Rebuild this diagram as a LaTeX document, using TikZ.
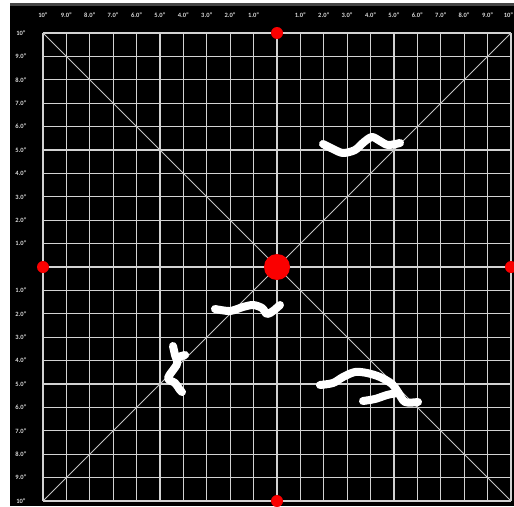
\documentclass[tikz,border=0pt]{standalone}
\usepackage{fontspec}
\setmainfont{Carlito}
\definecolor{GridGray}{RGB}{210,210,210}
\definecolor{DiagGray}{RGB}{195,195,195}
\definecolor{TopBand}{RGB}{70,70,70}
\definecolor{MarkRed}{RGB}{250,0,0}
\definecolor{LabelGray}{RGB}{215,215,215}
\tikzset{
  gridline/.style={draw=GridGray,line width=1.3pt},
  diagline/.style={draw=DiagGray,line width=0.9pt},
  ruler/.style={font=\fontsize{6.5}{7}\selectfont\bfseries,text=LabelGray,inner sep=0pt},
  bigdot/.style={circle,fill=MarkRed,minimum size=26pt,inner sep=0pt},
  edgedot/.style={circle,fill=MarkRed,minimum size=12pt,inner sep=0pt},
  scribble/.style={draw=white,line width=8pt,line cap=round,line join=round}
}

\begin{document}
\begin{tikzpicture}[x=1pt,y=-1pt]
  \useasboundingbox (0,0) rectangle (514,506);
  \clip (0,0) rectangle (514,506);
  \fill[white] (0,0) rectangle (514,506);
  \fill[TopBand] (10,3) rectangle (514,6);
  \fill[black] (10,6) rectangle (514,506);

  % grid, 20 x 20 cells
  \foreach \i in {0,...,20} {
    \draw[gridline] ({43+23.4*\i},33) -- ({43+23.4*\i},501);
    \draw[gridline] (43,{33+23.4*\i}) -- (511,{33+23.4*\i});
  }
  \draw[diagline] (43,33) -- (511,501);
  \draw[diagline] (511,33) -- (43,501);

  % ruler labels
  \foreach \v [count=\k from 0] in {10,9.0,8.0,7.0,6.0,5.0,4.0,3.0,2.0,1.0} {
    \node[ruler] (top-l\k) at ({43+23.4*\k},15) {\v"};
    \node[ruler] (side-u\k) at (21,{33+23.4*\k}) {\v"};
  }
  \foreach \v [count=\k from 11] in {1.0,2.0,3.0,4.0,5.0,6.0,7.0,8.0,9.0} {
    \node[ruler] (top-r\k) at ({43+23.4*\k},15) {\v"};
  }
  \node[ruler,anchor=east] (top-r20) at (513.5,15) {10"};
  \foreach \v [count=\k from 11] in {1.0,2.0,3.0,4.0,5.0,6.0,7.0,8.0,9.0,10} {
    \node[ruler] (side-d\k) at (21,{33+23.4*\k}) {\v"};
  }

  % red markers
  \node[bigdot] (centre) at (277,267) {};
  \node[edgedot] (north) at (277,33) {};
  \node[edgedot] (west) at (43,267) {};
  \node[edgedot] (east) at (511,267) {};
  \node[edgedot] (south) at (277,501) {};

  % white strokes
  \draw[scribble] plot[smooth] coordinates {(323,144) (333,149) (343,153) (355,150) (364,142) (372,137) (380,141) (388,145) (400,143)};
  \draw[scribble] plot[smooth] coordinates {(215,309) (230,311) (243,307) (253,305) (262,308) (267,314) (273,311) (280,305)};
  \draw[scribble] plot[smooth] coordinates {(173,346) (175,355) (177,364) (168,378) (175,383) (180,390) (182,392)};
  \draw[scribble] (178,357) -- (185,355);
  \draw[scribble] plot[smooth] coordinates {(320,385) (333,383) (343,377) (355,372) (367,373) (380,377) (392,384) (398,392) (405,402) (418,402)};
  \draw[scribble] plot[smooth] coordinates {(363,401) (375,399) (387,395) (397,393)};
\end{tikzpicture}
\end{document}
